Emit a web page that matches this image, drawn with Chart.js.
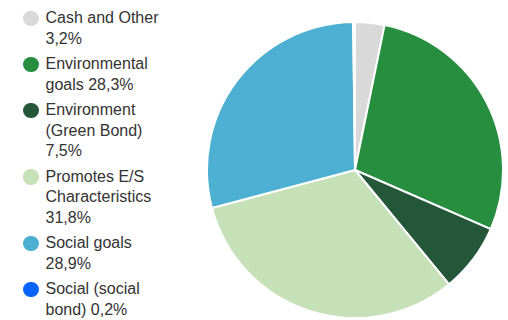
<!DOCTYPE html>
<html>
<head>
<meta charset="utf-8">
<script src="https://cdn.jsdelivr.net/npm/chart.js@4"></script>
<style>
    html, body { margin: 0; padding: 0; background: #fff; }
    body { width: 508px; height: 320px; position: relative; overflow: hidden; }
    #legend {
        position: absolute; left: 23px; top: 8px;
        font-family: 'Liberation Sans', Arial, sans-serif;
        font-size: 16px; line-height: 20.5px; color: #333;
    }
    .item { display: flex; align-items: flex-start; margin-bottom: 5px; }
    .dot { width: 15.5px; height: 15.5px; border-radius: 50%; margin-top: 2.5px; margin-right: 7px; flex: none; }
    .txt { width: 124px; }
    #pie { position: absolute; left: 206px; top: 21px; }
</style>
</head>
<body>
<div id="legend"></div>
<canvas id="pie" width="298" height="298"></canvas>
<script>
var labels = ['Cash and Other', 'Environmental goals', 'Environment (Green Bond)', 'Promotes E/S Characteristics', 'Social goals', 'Social (social bond)'];
var values = [3.2, 28.3, 7.5, 31.8, 28.9, 0.2];
var colors = ['#d9d9d9', '#268e3e', '#24573a', '#c6e0b7', '#4dafd1', '#0864ff'];

function fmt(v) {
    return v.toFixed(1).replace('.', ',') + '%';
}

// legend built as html so the labels can wrap
var legend = document.getElementById('legend');
labels.forEach(function (label, i) {
    var item = document.createElement('div');
    item.className = 'item';
    var dot = document.createElement('span');
    dot.className = 'dot';
    dot.style.background = colors[i];
    var txt = document.createElement('span');
    txt.className = 'txt';
    txt.textContent = label + ' ' + fmt(values[i]);
    item.appendChild(dot);
    item.appendChild(txt);
    legend.appendChild(item);
});

new Chart(document.getElementById('pie'), {
    type: 'pie',
    data: {
        labels: labels,
        datasets: [{
            data: values,
            backgroundColor: colors,
            borderColor: '#ffffff',
            borderWidth: 2
        }]
    },
    options: {
        responsive: false,
        animation: false,
        layout: { padding: 0 },
        plugins: {
            legend: { display: false },
            tooltip: { enabled: false }
        }
    }
});
</script>
</body>
</html>
